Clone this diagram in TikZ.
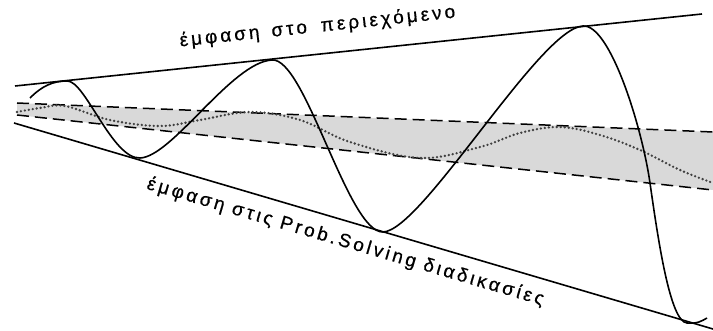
\documentclass[tikz,border=0pt]{standalone}
\usepackage{fontspec}
\setmainfont{Liberation Sans}
\newfontfamily\labelfont[LetterSpace=16, FakeBold=0.6]{Liberation Sans}
\usetikzlibrary{positioning}
\begin{document}
\begin{tikzpicture}[
        x=1pt, y=-1pt,
        every node/.style={outer sep=0pt, inner sep=0pt},
        % pixel grid of the scan: 1pt = 1px, y grows downwards
        bound/.style={line width=1.6pt},
        corridor/.style={line width=1.5pt, dash pattern=on 12pt off 6pt},
        spread/.style={fill=black!15, draw=none},
        drift/.style={line width=2.6pt, black!75, dash pattern=on 0pt off 4pt, line cap=round},
        swing/.style={line width=1.6pt},
        caption/.style={font=\labelfont\fontsize{19}{19}\selectfont, anchor=base}
    ]
        \useasboundingbox (0,0) rectangle (713,331);

        % outer envelope
        \coordinate (topL) at (15,86);
        \coordinate (topR) at (702,14);
        \coordinate (botL) at (14,123);
        \coordinate (botR) at (713,329);
        % inner band
        \coordinate (bandUL) at (17,103);
        \coordinate (bandUR) at (713,132);
        \coordinate (bandLL) at (17,115);
        \coordinate (bandLR) at (713,190);

        \fill[spread] (bandUL) -- (bandUR) -- (bandLR) -- (bandLL) -- cycle;
        \draw[corridor] (bandUL) -- (bandUR);
        \draw[corridor] (bandLL) -- (bandLR);

        \draw[drift] plot[smooth, tension=0.6] coordinates {
            (17,112) (40,108) (65,106) (110,120) (160,126) (200,120) (250,112)
            (300,120) (350,142) (420,158) (480,147) (520,133) (560,127)
            (600,135) (640,150) (680,170) (713,183)};

        \draw[bound] (topL) -- (topR);
        \draw[bound] (botL) -- (botR);

        % growing oscillation, touching the two bounds
        \coordinate (s0) at (30,98);
        \coordinate (p1) at (67,81);
        \coordinate (t1) at (140,158);
        \coordinate (p2) at (272,60);
        \coordinate (t2) at (383,232);
        \coordinate (p3) at (583,26);
        \coordinate (m3) at (650,183);
        \coordinate (t3) at (687,323);
        \coordinate (e0) at (707,318);
        \draw[swing] (s0) .. controls (42,86) and (53,81) .. (p1)
            .. controls (85,80) and (112,159) .. (t1)
            .. controls (172,157) and (232,62) .. (p2)
            .. controls (305,57) and (348,233) .. (t2)
            .. controls (422,231) and (540,28) .. (p3)
            .. controls (610,24) and (642,127) .. (m3)
            .. controls (658,239) and (670,322) .. (t3)
            .. controls (697,324) and (702,321) .. (e0);

        \node[caption, rotate=6] (content) at (318,32) {έμφαση\hspace{0.2em} στο\hspace{0.3em} περιεχόμενο};
        \node[caption, rotate=-16.4] (process) at (344,247) {έμφαση στις Prob.Solving διαδικασίες};
    \end{tikzpicture}
\end{document}
